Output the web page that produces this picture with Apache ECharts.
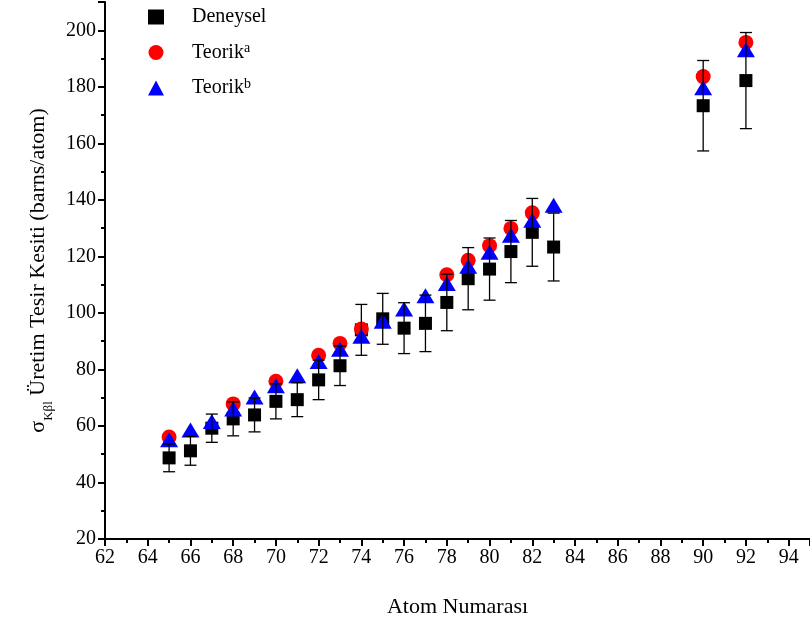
<!DOCTYPE html>
<html>
<head>
<meta charset="utf-8">
<script src="https://cdn.jsdelivr.net/npm/echarts@6/dist/echarts.min.js"></script>
<style>
  html, body { margin: 0; padding: 0; background: #fff; }
  #chart { width: 810px; height: 627px; }
</style>
</head>
<body>
<div id="chart"></div>
<script>
// Atomic numbers of the measured elements
var atomNumbers = [65, 66, 67, 68, 69, 70, 71, 72, 73, 74, 75, 76, 77, 78, 79, 80, 81, 82, 83, 90, 92];
// Measured K-beta cross sections (barns/atom) and their uncertainties
var deneysel = [48.7, 51.2, 59.2, 62.5, 63.9, 68.7, 69.3, 76.3, 81.3, 94.0, 97.9, 94.6, 96.3, 103.7, 112.1, 115.5, 121.7, 128.5, 123.3, 173.3, 182.2];
var deneyselErr = [4.9, 5.1, 5.0, 6.0, 6.0, 6.2, 6.0, 7.0, 7.0, 9.0, 9.0, 9.0, 10.0, 10.0, 11.0, 11.0, 11.0, 12.0, 12.0, 16.0, 17.0];
// Theoretical values, set a and set b
var teorikA = [56.1, null, null, 67.8, null, 75.8, null, 85.0, 89.2, 94.3, null, null, null, 113.5, 118.6, 123.8, 129.9, 135.4, null, 183.6, 195.7];
var teorikB = [55.1, 58.6, 61.6, 66.0, 70.2, 74.2, 77.8, 82.8, 87.1, 91.7, 97.0, 101.4, 106.1, 110.4, 116.5, 121.5, 127.5, 132.8, 138.1, 179.7, 193.1];

var FONT = '"Liberation Serif", "Times New Roman", serif';

function pairs(values) {
  var out = [];
  for (var i = 0; i < atomNumbers.length; i++) {
    if (values[i] != null) out.push([atomNumbers[i], values[i]]);
  }
  return out;
}

var errData = atomNumbers.map(function (z, i) {
  return [z, deneysel[i] - deneyselErr[i], deneysel[i] + deneyselErr[i]];
});

var chart = echarts.init(document.getElementById('chart'), null, { renderer: 'canvas' });

var axisCommon = {
  axisLine: { show: true, onZero: false, lineStyle: { color: '#000', width: 2 } },
  axisTick: { show: true, inside: false, length: 7, lineStyle: { color: '#000', width: 2 } },
  minorTick: { show: true, splitNumber: 2, length: 4, lineStyle: { color: '#000', width: 2 } },
  splitLine: { show: false },
  axisLabel: { color: '#000', fontFamily: FONT, fontSize: 20, margin: 9, showMaxLabel: false },
  nameLocation: 'middle',
  nameTextStyle: { color: '#000', fontFamily: FONT, fontSize: 22 }
};

chart.setOption({
  animation: false,
  backgroundColor: '#fff',
  grid: { left: 105, right: 0, top: 2, bottom: 88, containLabel: false },
  legend: {
    orient: 'vertical',
    left: 143,
    top: 2,
    itemWidth: 16,
    itemHeight: 15,
    itemGap: 14.5,
    selectedMode: false,
    data: [
      { name: 'Deneysel', icon: 'rect', itemStyle: { opacity: 1 } },
      { name: 'TeorikA', icon: 'circle', itemStyle: { opacity: 1 } },
      { name: 'TeorikB', icon: 'triangle', itemStyle: { opacity: 1 } }
    ],
    formatter: function (name) {
      if (name === 'TeorikA') return '{t|Teorik}{sup|a}';
      if (name === 'TeorikB') return '{t|Teorik}{sup|b}';
      return '{t|' + name + '}';
    },
    textStyle: {
      color: '#000',
      fontFamily: FONT,
      fontSize: 20,
      rich: {
        t: { fontFamily: FONT, fontSize: 20, lineHeight: 22, padding: [0, 0, 0, 23], color: '#000' },
        sup: { fontFamily: FONT, fontSize: 14, lineHeight: 14, verticalAlign: 'top', color: '#000' }
      }
    }
  },
  xAxis: Object.assign({}, axisCommon, {
    type: 'value',
    min: 62,
    max: 95,
    interval: 2,
    name: 'Atom Numarası',
    nameGap: 57
  }),
  yAxis: Object.assign({}, axisCommon, {
    type: 'value',
    min: 20,
    max: 210,
    interval: 20,
    name: '{n|σ}{sub|Kβl}{n| Üretim Tesir Kesiti (barns/atom)}',
    nameGap: 50,
    nameTextStyle: {
      color: '#000',
      fontFamily: FONT,
      fontSize: 22,
      rich: {
        n: { fontFamily: FONT, fontSize: 22, lineHeight: 28, verticalAlign: 'top', color: '#000' },
        sub: { fontFamily: FONT, fontSize: 13, lineHeight: 13, verticalAlign: 'bottom', color: '#000' }
      }
    }
  }),
  series: [
    {
      name: 'Deneysel',
      type: 'scatter',
      symbol: 'rect',
      symbolSize: 13,
      itemStyle: { color: '#000', opacity: 1 },
      data: pairs(deneysel),
      z: 2
    },
    {
      name: 'TeorikA',
      type: 'scatter',
      symbol: 'circle',
      symbolSize: 15,
      itemStyle: { color: '#ff0000', opacity: 1 },
      data: pairs(teorikA),
      z: 3
    },
    {
      name: 'TeorikB',
      type: 'scatter',
      symbol: 'triangle',
      symbolSize: [18, 15],
      itemStyle: { color: '#0000ff', opacity: 1 },
      data: pairs(teorikB),
      z: 4
    },
    {
      name: 'errors',
      type: 'custom',
      z: 5,
      data: errData,
      renderItem: function (params, api) {
        var x = api.value(0);
        var lo = api.coord([x, api.value(1)]);
        var hi = api.coord([x, api.value(2)]);
        var cap = 6;
        var style = { stroke: '#000', lineWidth: 1.3 };
        return {
          type: 'group',
          children: [
            { type: 'line', shape: { x1: lo[0], y1: lo[1], x2: hi[0], y2: hi[1] }, style: style },
            { type: 'line', shape: { x1: lo[0] - cap, y1: lo[1], x2: lo[0] + cap, y2: lo[1] }, style: style },
            { type: 'line', shape: { x1: hi[0] - cap, y1: hi[1], x2: hi[0] + cap, y2: hi[1] }, style: style }
          ]
        };
      }
    }
  ]
});
</script>
</body>
</html>
